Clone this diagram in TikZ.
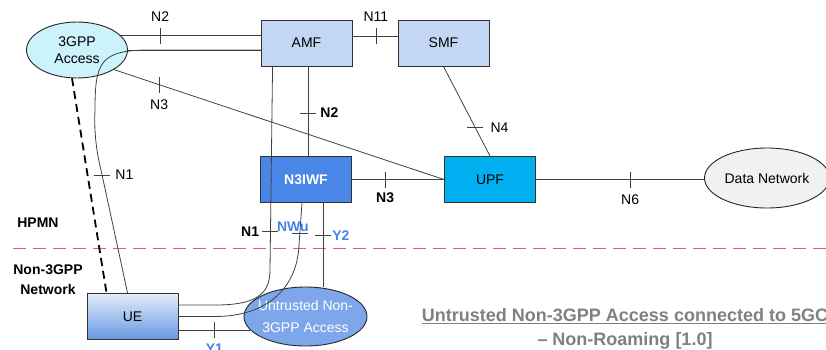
\documentclass[tikz,border=0pt]{standalone}
\usepackage{fontspec}
\setmainfont{Liberation Sans}
\usetikzlibrary{shapes.geometric}
\definecolor{nfBlue}{RGB}{195,214,243}
\definecolor{accCyan}{RGB}{204,242,252}
\definecolor{iwfBlue}{RGB}{74,134,232}
\definecolor{upfCyan}{RGB}{0,176,240}
\definecolor{untrBlue}{RGB}{126,166,234}
\definecolor{dnGray}{RGB}{241,241,241}
\definecolor{ueTop}{RGB}{226,236,251}
\definecolor{ueBottom}{RGB}{104,152,226}
\definecolor{lineGray}{RGB}{64,64,64}
\definecolor{ifBlue}{RGB}{66,133,232}
\definecolor{capGray}{RGB}{128,128,128}
\definecolor{hpmnRed}{RGB}{226,98,98}

\begin{document}
\begin{tikzpicture}[x=1pt, y=-1pt, font=\fontsize{14}{17}\selectfont,
    nfbox/.style={draw=black!80, line width=0.9pt, minimum width=91pt, minimum height=46pt, inner sep=0pt},
    areaell/.style={ellipse, draw=black!85, line width=0.9pt, inner sep=0pt, align=center},
    link/.style={draw=lineGray, line width=0.8pt},
    vtick/.style={inner sep=0pt, text=lineGray, node contents={\rule{0.8pt}{16pt}}},
    htick/.style={inner sep=0pt, text=lineGray, node contents={\rule{16pt}{0.8pt}}},
    lbl/.style={inner sep=1pt},
    blbl/.style={inner sep=1pt, font=\fontsize{14}{17}\selectfont\bfseries},
    ylbl/.style={blbl, text=ifBlue}]
  \useasboundingbox (0,0) rectangle (826,349);

  % network functions and access networks
  \node[areaell, fill=accCyan, minimum width=101pt, minimum height=56pt] (acc3gpp) at (77,50) {3GPP\\Access};
  \node[nfbox, fill=nfBlue] (amf) at (306.5,43) {AMF};
  \node[nfbox, fill=nfBlue] (smf) at (443.5,43) {SMF};
  \node[nfbox, fill=iwfBlue, text=white, font=\fontsize{14}{17}\selectfont\bfseries] (n3iwf) at (306,179.5) {N3IWF};
  \node[nfbox, fill=upfCyan] (upf) at (490,179.5) {UPF};
  \node[areaell, fill=dnGray, minimum width=125pt, minimum height=60pt] (dn) at (767,178) {Data Network};
  \node[nfbox, top color=ueTop, bottom color=ueBottom] (ue) at (132.5,316.5) {UE};
  \node[areaell, fill=untrBlue, text=white, inner xsep=-4pt, minimum width=123pt, minimum height=59pt,
        font=\fontsize{14}{22}\selectfont] (untr) at (305.5,316.5) {Untrusted Non-\\3GPP Access};

  % PLMN border
  \draw[hpmnRed, line width=0.8pt, dash pattern=on 13pt off 7pt] (13,248) -- (830,248);
  \node[blbl] (hpmn) at (38,223) {HPMN};
  \node[blbl, align=center, font=\fontsize{14}{20}\selectfont\bfseries] (non3gpp) at (48,280) {Non-3GPP\\Network};

  % 3GPP access side
  \draw[link] (acc3gpp.18) -- (acc3gpp.18 -| amf.west)
    node[pos=.28, vtick] node[pos=.28, above=13pt, lbl] {N2};
  \draw[link] (acc3gpp.east) -- (acc3gpp.east -| amf.west);
  \draw[link] (acc3gpp.-28) -- (upf.west)
    node[pos=.137, vtick] node[pos=.137, below=14pt, lbl] {N3};
  \draw[line width=1.8pt, dash pattern=on 8pt off 5pt] (acc3gpp.260) -- ([xshift=20pt]ue.north west);
  \draw[link] ([xshift=41pt]ue.north west) -- (101,170)
    node[pos=.96, htick] node[pos=.96, right=12pt, lbl] {N1}
    .. controls (96,150) and (94,130) .. (95,110) .. controls (95,62) and (100,50) .. (150,50)
    -- (acc3gpp.east -| amf.west);

  % core network
  \draw[link] ([yshift=7pt]amf.east) -- ([yshift=7pt]smf.west)
    node[pos=.52, vtick] node[pos=.52, above=13pt, lbl] {N11};
  \draw[link] ([xshift=1.5pt]amf.south) -- ([xshift=1.5pt]amf.south |- n3iwf.north)
    node[pos=.52, htick] node[pos=.52, right=11pt, blbl] {N2};
  \draw[link] (smf.south) -- (upf.north)
    node[pos=.68, htick] node[pos=.68, right=14pt, lbl] {N4};
  \draw[link] (n3iwf.east) -- (upf.west)
    node[pos=.36, vtick] node[pos=.36, below=12pt, blbl] {N3};
  \draw[link] (upf.east) -- (upf.east -| dn.west)
    node[pos=.56, vtick] node[pos=.56, below=14pt, lbl] {N6};

  % untrusted non-3GPP access side
  \draw[link] ([xshift=12pt]amf.south west) -- (270,270)
    node[pos=.81, htick] node[pos=.81, left=10pt, blbl] {N1}
    .. controls (270,295) and (255,305) .. (215,305) -- ([yshift=11.5pt]ue.east);
  \draw[link] ([xshift=-4pt]n3iwf.south) -- (299,245)
    node[pos=.72, htick] node[pos=.72, xshift=-7pt, yshift=6pt, ylbl] {NWu}
    .. controls (297,290) and (265,316.5) .. (215,316.5) -- (ue.east);
  \draw[link] ([xshift=17pt]n3iwf.south) -- ([xshift=17pt]n3iwf.south |- untr.north)
    node[pos=.39, htick] node[pos=.39, right=8pt, ylbl] {Y2};
  \draw[link] (untr.194 -| ue.east) -- (untr.194)
    node[pos=.5, vtick] node[pos=.5, below=12pt, ylbl] {Y1};

  \node[align=center, text=capGray, font=\fontsize{18}{24}\selectfont\bfseries] (title) at (625,330)
    {\underline{Untrusted Non-3GPP Access connected to 5GC}\\\underline{– Non-Roaming} [1.0]};
\end{tikzpicture}
\end{document}
